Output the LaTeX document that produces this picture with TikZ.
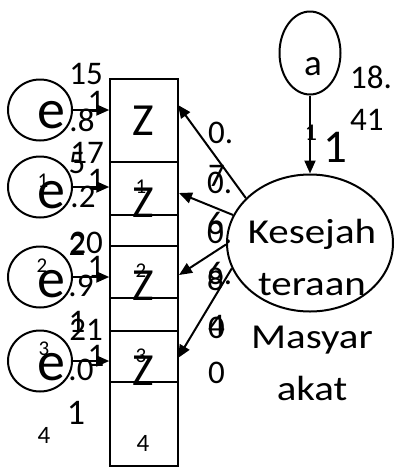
\documentclass[tikz,border=0pt]{standalone}
\usepackage{fontspec}
\usepackage{graphicx}
\setmainfont{Carlito}
\usetikzlibrary{arrows.meta,shapes.geometric}
\newcommand{\wideK}[1]{\scalebox{1.17}[1]{#1}}
\begin{document}
\begin{tikzpicture}[x=1pt,y=-1pt,
  txt/.style={inner sep=0pt, anchor=base},
  txtl/.style={inner sep=0pt, anchor=base west},
  fnum/.style={font=\fontsize{33}{33}\selectfont},
  fbig/.style={font=\fontsize{46}{46}\selectfont},
  fone/.style={font=\fontsize{47}{47}\selectfont},
  fe/.style={font=\fontsize{56}{56}\selectfont},
  fsub/.style={font=\fontsize{21}{21}\selectfont},
  fk/.style={font=\fontsize{35}{35}\selectfont},
  fsm/.style={font=\fontsize{25}{25}\selectfont},
  boxc/.style={draw, line width=1.5pt, minimum width=68pt, inner sep=0pt},
  errc/.style={draw, ellipse, line width=2pt, minimum width=64pt, minimum height=61pt, inner sep=0pt},
  arr/.style={line width=2pt, -{Triangle[length=13pt,width=11pt]}}
]
\useasboundingbox (0,0) rectangle (395,467);
% boxes
\node[boxc, minimum height=83pt] (B1) at (144,120.5) {};
\node[boxc, minimum height=53pt] (B2) at (144,188.5) {};
\node[boxc, minimum height=31pt] (B2b) at (144,230.5) {};
\node[boxc, minimum height=52pt] (B3) at (144,272) {};
\node[boxc, minimum height=33pt] (B3b) at (144,314.5) {};
\node[boxc, minimum height=51pt] (B4) at (144,356.5) {};
\node[boxc, minimum height=84pt] (B5) at (144,424) {};
% box texts
\node[txt,fbig] (z1) at (143,135) {Z};
\node[txt,fsub] (s1) at (141,193) {1};
\node[txt,fbig] (z2) at (143,217) {Z};
\node[txt,fsub] (s2) at (141,277) {2};
\node[txt,fbig] (z3) at (143,300) {Z};
\node[txt,fsub] (s3) at (141,362) {3};
\node[txt,fbig] (z4) at (143,385) {Z};
\node[txt,fsm] (n4) at (143,451) {4};
% error circles
\node[errc] (e1) at (40,110) {};
\node[errc] (e2) at (40,187) {};
\node[errc] (e3) at (40,277) {};
\node[errc] (e4) at (40,361) {};
\node[txt,fe] (le1) at (51,128) {e};
\node[txt,fsub] (ls2) at (43,187) {1};
\node[txt,fe] (le2) at (51,208) {e};
\node[txt,fsub] (ls3) at (42,272) {2};
\node[txt,fe] (le3) at (51,297) {e};
\node[txt,fsub] (ls4) at (44,355) {3};
\node[txt,fe] (le4) at (51,380) {e};
% left labels
\node[txt,fnum] (l15) at (86,84) {15};
\node[txt,fnum] (l8) at (82,131) {.8};
\node[txt,fnum] (l17) at (87,163) {17};
\node[txt,fnum] (l5) at (77,173) {5};
\node[txt,fnum] (l2) at (83,207) {.2};
\node[txt,fnum] (l20) at (86,253) {20};
\node[txt,fnum] (l2b) at (77,255) {2};
\node[txt,fnum] (l9) at (81,296) {.9};
\node[txt,fnum] (l21) at (86,340) {21};
\node[txt,fnum] (l1b) at (77,332) {1};
\node[txt,fnum] (l0) at (81,380) {.0};
\node[txt,font=\fontsize{36}{36}\selectfont] (l1c) at (76,424) {1};
\node[txt,fsm] (l4) at (44,443) {4};
% left arrows
\draw[arr] (e1.east) -- (e1.east -| B1.west);
\draw[arr] (e2.east) -- (e2.east -| B2.west);
\draw[arr] (e3.east) -- (e3.east -| B3.west);
\draw[arr] (e4.east) -- (e4.east -| B4.west);
\node[txt,fnum] (w1) at (96,112) {1};
\node[txt,fnum] (w2) at (96,190) {1};
\node[txt,fnum] (w3) at (96,277) {1};
\node[txt,fnum] (w4) at (96,366) {1};
% latent
\node[draw, ellipse, line width=2pt, minimum width=166pt, minimum height=137pt, inner sep=0pt] (K) at (310,243) {};
\node[txt,fk] (k1) at (312,243) {\wideK{Kesejah}};
\node[txt,fk] (k2) at (312,295) {\wideK{teraan}};
\node[txt,fk] (k3) at (312,348) {\wideK{Masyar}};
\node[txt,fk] (k4) at (312,400) {\wideK{akat}};
\node[draw, ellipse, line width=2pt, minimum width=61pt, minimum height=83pt, inner sep=0pt] (a) at (310,53) {};
\node[txt,font=\fontsize{37}{37}\selectfont] (la) at (313,75) {a};
\draw[arr] (a.south) -- (K.north);
\node[txt,font=\fontsize{24}{24}\selectfont] (wa) at (311,140) {1};
\node[txt,fone] (wa2) at (335,162) {1};
\node[txtl,fnum] (v18) at (350,88) {18.};
\node[txtl,fnum] (v41) at (350,130) {41};
% loadings
\coordinate (t1) at (178,105);
\coordinate (t2) at (179,193);
\coordinate (t3) at (179,275);
\coordinate (t4) at (178,358);
\draw[arr] (K.145) -- (t1);
\draw[arr] (K.160) -- (t2);
\draw[arr] (K.181) -- (t3);
\draw[arr] (K.198) -- (t4);
\node[txtl,fnum] (r1) at (208,143) {0.};
\node[txtl,fnum] (r2b) at (208,186) {7};
\node[txtl,fnum] (r2) at (207,193) {0.};
\node[txtl,fnum] (r3b) at (207,234) {6};
\node[txtl,fnum] (r3) at (207,243) {0.};
\node[txtl,fnum] (r4b) at (207,284) {6.};
\node[txtl,fnum] (r4) at (207,290) {8};
\node[txtl,fnum] (r5b) at (208,336) {4};
\node[txtl,fnum] (r5) at (208,338) {0};
\node[txtl,fnum] (r6) at (208,383) {0};
\end{tikzpicture}
\end{document}
